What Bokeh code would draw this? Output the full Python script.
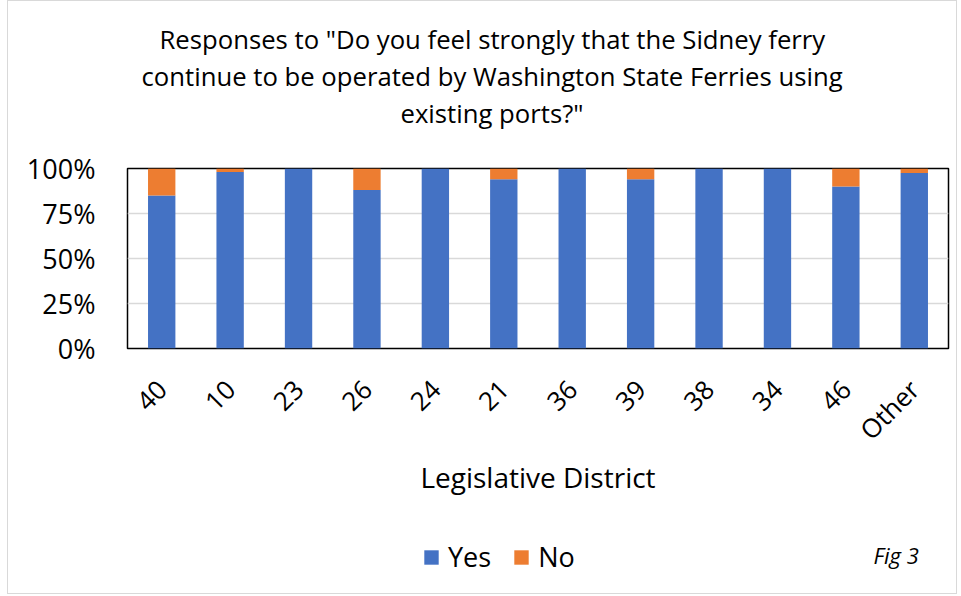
from bokeh.plotting import figure
from bokeh.models import (ColumnDataSource, FactorRange, FixedTicker, NumeralTickFormatter,
                          Title, Legend, LegendItem, Label)
from bokeh.layouts import column
from bokeh.embed import file_html
from bokeh.resources import INLINE
import math

districts = ["40", "10", "23", "26", "24", "21", "36", "39", "38", "34", "46", "Other"]
yes_share = [0.85, 0.98, 1.00, 0.88, 1.00, 0.94, 1.00, 0.94, 1.00, 1.00, 0.90, 0.975]
no_share = [round(1 - v, 3) for v in yes_share]
y_ticks = [0, 0.25, 0.5, 0.75, 1.0]
series = ["Yes", "No"]
title_lines = ['Responses to "Do you feel strongly that the Sidney ferry',
               'continue to be operated by Washington State Ferries using',
               'existing ports?"']
title_offsets = [32, 14, 273]   # left offsets so the lines centre over the whole chart box

FONT = "Open Sans"
BLUE = "#4472C4"
ORANGE = "#ED7D31"
COLORS = [BLUE, ORANGE]

source = ColumnDataSource(dict(district=districts, Yes=yes_share, No=no_share))

# ---- main chart ----
p = figure(width=948, height=510, x_range=FactorRange(factors=districts, range_padding=0),
           y_range=(0, 1), output_backend="svg", toolbar_location=None,
           min_border_left=119, min_border_right=8, min_border_top=167, min_border_bottom=163)
p.title = None

renderers = p.vbar_stack(series, x="district", width=0.4, color=COLORS,
                         source=source, line_color=None)

# spacer between title and frame, then the three title lines
p.add_layout(Title(text=" ", text_font=FONT, text_font_size="26px", standoff=0), "above")
for line, off in reversed(list(zip(title_lines, title_offsets))):
    p.add_layout(Title(text=line, align="left", offset=off, text_font=FONT,
                       text_font_size="25.7px", text_font_style="normal",
                       text_color="#000000", standoff=0), "above")

p.outline_line_color = "#000000"
p.outline_line_width = 1.5
p.xgrid.grid_line_color = None
p.ygrid.grid_line_color = "#d9d9d9"
p.ygrid.grid_line_width = 1.5

p.yaxis.ticker = FixedTicker(ticks=y_ticks)
p.yaxis.formatter = NumeralTickFormatter(format="0%")
p.yaxis.axis_line_color = None
p.yaxis.major_tick_line_color = None
p.yaxis.minor_tick_line_color = None
p.yaxis.major_label_text_font = FONT
p.yaxis.major_label_text_font_size = "27px"
p.yaxis.major_label_text_color = "#000000"
p.yaxis.major_label_standoff = 26

p.xaxis.axis_line_color = None
p.xaxis.major_tick_line_color = None
p.xaxis.major_label_orientation = math.pi / 4
p.xaxis.major_label_text_font = FONT
p.xaxis.major_label_text_font_size = "26px"
p.xaxis.major_label_text_color = "#000000"
p.xaxis.major_label_standoff = 30
p.xaxis.axis_label = "Legislative District"
p.xaxis.axis_label_text_font = FONT
p.xaxis.axis_label_text_font_size = "28px"
p.xaxis.axis_label_text_font_style = "normal"
p.xaxis.axis_label_text_color = "#000000"
p.xaxis.axis_label_standoff = -5

# ---- legend strip (zero-size proxy bars carry the legend swatches) ----
q = figure(width=948, height=82, x_range=(0, 1), y_range=(0, 1), output_backend="svg",
           toolbar_location=None, min_border=0)
q.axis.visible = False
q.grid.visible = False
q.outline_line_color = None
legend_renderers = [q.vbar(x=s, top=0, width=0, fill_color=c, line_color=None, source=source)
                    for s, c in zip(series, COLORS)]

legend = Legend(items=[LegendItem(label=s, renderers=[r]) for s, r in zip(series, legend_renderers)],
                orientation="horizontal", location=(295, 18), margin=0, padding=0,
                label_text_font=FONT, label_text_font_size="27px", label_text_color="#000000",
                glyph_width=18, glyph_height=18, spacing=21, label_standoff=8,
                border_line_color=None, background_fill_alpha=0)
q.add_layout(legend, "center")
q.add_layout(Label(x=746, y=39, x_units="screen", y_units="screen", text="Fig 3",
                   text_baseline="alphabetic", text_font=FONT, text_font_size="22px",
                   text_font_style="italic", text_color="#000000"))

layout = column(p, q, spacing=0)
layout.styles = {"border": "1px solid #d9d9d9", "margin-left": "7px"}

open("out.html", "w").write(file_html(layout, INLINE))
